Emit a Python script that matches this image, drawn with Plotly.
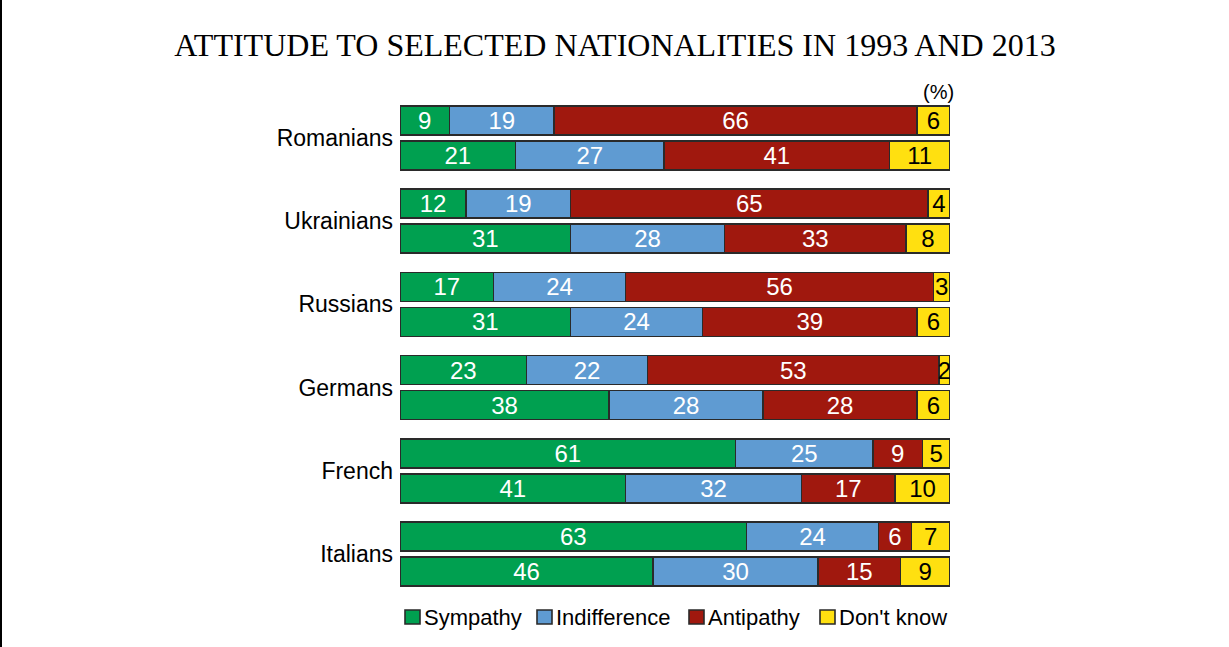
import plotly.graph_objects as go

groups = ["Romanians", "Ukrainians", "Russians", "Germans", "French", "Italians"]
years = ["1993", "2013"]
series_names = ["Sympathy", "Indifference", "Antipathy", "Don't know"]
sympathy_1993 = [9, 12, 17, 23, 61, 63]
sympathy_2013 = [21, 31, 31, 38, 41, 46]
indifference_1993 = [19, 19, 24, 22, 25, 24]
indifference_2013 = [27, 28, 24, 28, 32, 30]
antipathy_1993 = [66, 65, 56, 53, 9, 6]
antipathy_2013 = [41, 33, 39, 28, 17, 15]
dontknow_1993 = [6, 4, 3, 2, 5, 7]
dontknow_2013 = [11, 8, 6, 6, 10, 9]

colors = ["#00a050", "#5f9bd2", "#a0180e", "#ffe010"]
text_colors = ["white", "white", "white", "black"]

GROUP_PITCH = 2.377
BAR_W = 0.83
W, H = 1229, 647
ML, MR, MT, MB = 400, 279, 100, 52
PW, PH = W - ML - MR, H - MT - MB

# legend layout (pixel x of each swatch's left edge)
LEGEND_SWATCH_X = [405, 537, 689, 820]
LEGEND_Y = 617

series_1993 = [sympathy_1993, indifference_1993, antipathy_1993, dontknow_1993]
series_2013 = [sympathy_2013, indifference_2013, antipathy_2013, dontknow_2013]

ypos = []
for g in range(len(groups)):
    ypos.append(g * GROUP_PITCH)
    ypos.append(g * GROUP_PITCH + 1)

fig = go.Figure()
for k, name in enumerate(series_names):
    vals = []
    for g in range(len(groups)):
        vals.append(series_1993[k][g])
        vals.append(series_2013[k][g])
    fig.add_trace(go.Bar(
        name=name, orientation="h", x=vals, y=ypos, width=BAR_W,
        marker=dict(color=colors[k], line=dict(color="#2a2a2a", width=1.6)),
        text=[str(v) for v in vals], textposition="inside", textangle=0,
        insidetextanchor="middle", constraintext="none",
        textfont=dict(family="Liberation Sans, Arial", size=24, color=text_colors[k]),
        hoverinfo="x+name", showlegend=False,
    ))

tickvals = [g * GROUP_PITCH + 0.5 for g in range(len(groups))]


def px_to_paper_x(px):
    return (px - ML) / PW


def px_to_paper_y(py):
    return 1 - (py - MT) / PH


shapes = [dict(type="line", xref="paper", yref="paper",
               x0=px_to_paper_x(1), x1=px_to_paper_x(1), y0=-1, y1=2,
               line=dict(color="black", width=2))]
annotations = [dict(text="(%)", x=px_to_paper_x(938), y=px_to_paper_y(92),
                    xref="paper", yref="paper", showarrow=False,
                    xanchor="center", yanchor="middle",
                    font=dict(family="Liberation Sans, Arial", size=20, color="black"))]

for k, name in enumerate(series_names):
    sx = LEGEND_SWATCH_X[k]
    shapes.append(dict(type="rect", xref="paper", yref="paper",
                       x0=px_to_paper_x(sx), x1=px_to_paper_x(sx + 15),
                       y0=px_to_paper_y(LEGEND_Y + 7), y1=px_to_paper_y(LEGEND_Y - 7),
                       fillcolor=colors[k], line=dict(color="#2a2a2a", width=1.6)))
    annotations.append(dict(text=name, x=px_to_paper_x(sx + 17), y=px_to_paper_y(LEGEND_Y),
                            xref="paper", yref="paper", showarrow=False,
                            xanchor="left", yanchor="middle",
                            font=dict(family="Liberation Sans, Arial", size=22, color="black")))

fig.update_layout(
    width=W, height=H,
    margin=dict(l=ML, r=MR, t=MT, b=MB),
    barmode="stack",
    plot_bgcolor="white", paper_bgcolor="white",
    uniformtext=dict(minsize=24, mode="show"),
    title=dict(text="ATTITUDE TO SELECTED NATIONALITIES IN 1993 AND 2013",
               x=615 / W, xanchor="center", y=1 - 45 / H, yanchor="middle",
               yref="container",
               font=dict(family="Liberation Serif, Times New Roman", size=32, color="black")),
    xaxis=dict(range=[0, 100], visible=False, showgrid=False, zeroline=False),
    yaxis=dict(range=[13.557, -0.586], tickvals=tickvals, ticktext=groups,
               showgrid=False, zeroline=False, showline=False, ticks="",
               ticklabelstandoff=6,
               tickfont=dict(family="Liberation Sans, Arial", size=23, color="black")),
    showlegend=False,
    annotations=annotations,
    shapes=shapes,
)

fig.write_html("out.html")
